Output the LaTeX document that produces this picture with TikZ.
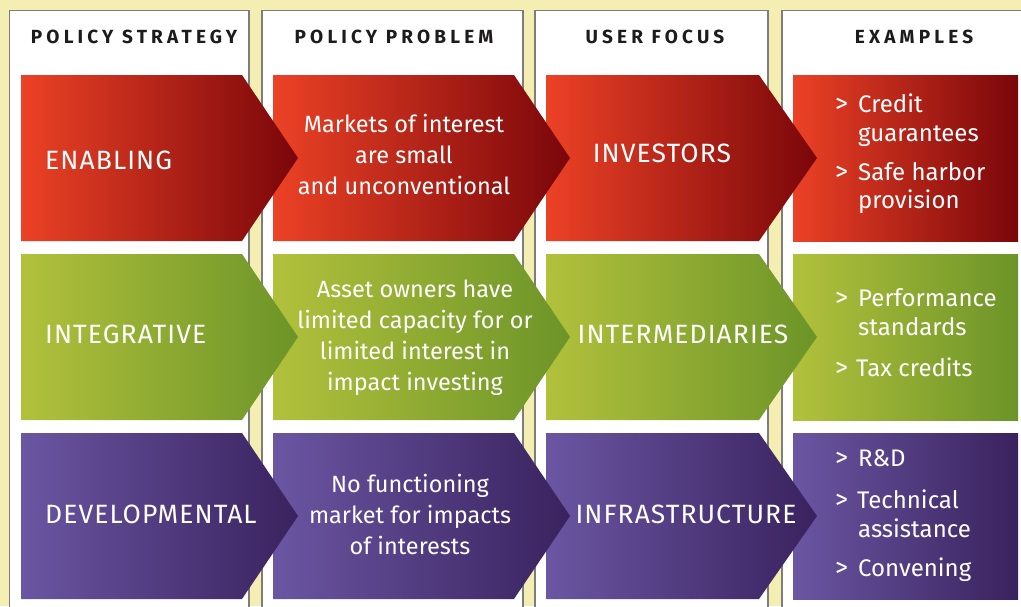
\documentclass[tikz,border=0pt]{standalone}
\usepackage{fontspec}
\setmainfont{Fira Sans}
\newfontfamily\hdrfont[LetterSpace=22]{Fira Sans}
\newfontfamily\labfont[LetterSpace=4]{Fira Sans}
\definecolor{cream}{RGB}{244,238,178}
\definecolor{panelgray}{RGB}{125,125,125}
\definecolor{hdrtext}{RGB}{30,27,28}
\definecolor{redL}{RGB}{236,66,38}
\definecolor{redR}{RGB}{122,6,10}
\definecolor{grnL}{RGB}{178,193,60}
\definecolor{grnR}{RGB}{108,148,40}
\definecolor{purL}{RGB}{106,86,162}
\definecolor{purR}{RGB}{58,34,94}
\tikzset{
  panel/.style={fill=white, draw=panelgray, line width=1.5pt},
  hdr/.style={text=hdrtext, inner sep=0pt, font=\hdrfont\bfseries\fontsize{19}{19}\selectfont},
  lab/.style={text=white, inner sep=0pt, font=\labfont\fontsize{26.5}{26.5}\selectfont},
  body/.style={text=white, inner sep=0pt, font=\fontsize{23.5}{23.5}\selectfont},
  ex/.style={text=white, inner sep=0pt, font=\fontsize{24}{24}\selectfont},
  gt/.style={text=white, inner sep=0pt, font=\fontsize{26}{26}\selectfont},
}
% #1 x0, #2 x1, #3 tip x, #4 top, #5 bottom, #6 left colour, #7 right colour
\newcommand\chevblk[7]{%
  \path[left color=#6, right color=#7, shading angle=90]
    (#1,#4) -- (#2,#4) -- (#3,{(#4+#5)/2}) -- (#2,#5) -- (#1,#5) -- cycle;}
\begin{document}
\begin{tikzpicture}[x=1pt,y=-1pt]
\useasboundingbox (0,0) rectangle (1021,606);
\fill[cream] (0,0) rectangle (1021,606);
% column panels
\draw[panel] (9.5,10.5) rectangle (249,630);
\draw[panel] (262,10.5) rectangle (523,630);
\draw[panel] (535,10.5) rectangle (768,630);
\draw[panel] (782,10.5) rectangle (1040,630);
% headers
\node[hdr, anchor=base] (h1) at (134,43) {POLICY STRATEGY};
\node[hdr, anchor=base] (h2) at (394,43) {POLICY PROBLEM};
\node[hdr, anchor=base] (h3) at (655,43) {USER FOCUS};
\node[hdr, anchor=base] (h4) at (914,43) {EXAMPLES};
% row 1 (red)
\path[left color=redL, right color=redR] (793,75) rectangle (1018,241);
\chevblk{546}{759}{817}{75}{241}{redL}{redR}
\chevblk{273}{514}{570}{75}{241}{redL}{redR}
\chevblk{21}{242}{298}{75}{241}{redL}{redR}
% row 2 (green)
\path[left color=grnL, right color=grnR] (793,254) rectangle (1018,420);
\chevblk{546}{759}{817}{254}{420}{grnL}{grnR}
\chevblk{273}{514}{570}{254}{420}{grnL}{grnR}
\chevblk{21}{242}{298}{254}{420}{grnL}{grnR}
% row 3 (purple)
\path[left color=purL, right color=purR] (793,433) rectangle (1018,599);
\chevblk{546}{759}{817}{433}{599}{purL}{purR}
\chevblk{273}{514}{570}{433}{599}{purL}{purR}
\chevblk{21}{242}{298}{433}{599}{purL}{purR}
% column 1 labels
\node[lab, anchor=base west] (s1) at (45,169) {ENABLING};
\node[lab, anchor=base west] (s2) at (45,343) {INTEGRATIVE};
\node[lab, anchor=base west] (s3) at (45,523) {DEVELOPMENTAL};
% column 2 text
\node[body, anchor=base] (p1a) at (404,132) {Markets of interest};
\node[body, anchor=base] (p1b) at (404,163) {are small};
\node[body, anchor=base] (p1c) at (404,194) {and unconventional};
\node[body, anchor=base] (p2a) at (415,297) {Asset owners have};
\node[body, anchor=base] (p2b) at (415,328) {limited capacity for or};
\node[body, anchor=base] (p2c) at (415,359) {limited interest in};
\node[body, anchor=base] (p2d) at (415,390) {impact investing};
\node[body, anchor=base] (p3a) at (410,492) {No functioning};
\node[body, anchor=base] (p3b) at (410,523) {market for impacts};
\node[body, anchor=base] (p3c) at (410,554) {of interests};
% column 3 labels
\node[lab, anchor=base] (u1) at (662,162) {INVESTORS};
\node[lab, anchor=base] (u2) at (683,343) {INTERMEDIARIES};
\node[lab, anchor=base] (u3) at (686,523) {INFRASTRUCTURE};
% column 4 examples
\node[gt, anchor=base west] (g1) at (835,112) {>};
\node[ex, anchor=base west] (e1a) at (858,112) {Credit};
\node[ex, anchor=base west] (e1b) at (858,141) {guarantees};
\node[gt, anchor=base west] (g2) at (835,180) {>};
\node[ex, anchor=base west] (e1c) at (858,180) {Safe harbor};
\node[ex, anchor=base west] (e1d) at (858,208) {provision};
\node[gt, anchor=base west] (g3) at (835,306) {>};
\node[ex, anchor=base west] (e2a) at (858,306) {Performance};
\node[ex, anchor=base west] (e2b) at (858,335) {standards};
\node[gt, anchor=base west] (g4) at (835,376) {>};
\node[ex, anchor=base west] (e2c) at (856,376) {Tax credits};
\node[gt, anchor=base west] (g5) at (835,466) {>};
\node[ex, anchor=base west] (e3a) at (858,466) {R\&D};
\node[gt, anchor=base west] (g6) at (835,508) {>};
\node[ex, anchor=base west] (e3b) at (857,508) {Technical};
\node[ex, anchor=base west] (e3c) at (858,537) {assistance};
\node[gt, anchor=base west] (g7) at (835,576) {>};
\node[ex, anchor=base west] (e3d) at (858,576) {Convening};
\end{tikzpicture}
\end{document}
